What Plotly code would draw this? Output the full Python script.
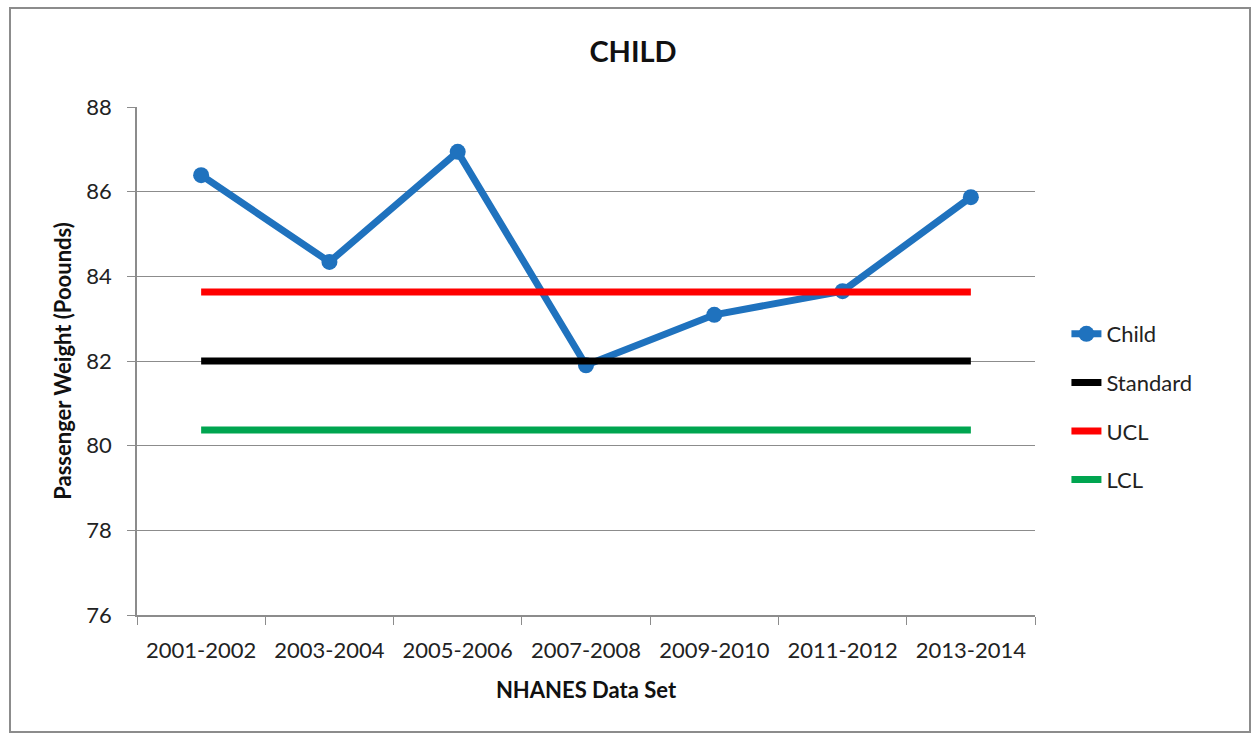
import plotly.graph_objects as go

categories = ["2001-2002", "2003-2004", "2005-2006", "2007-2008", "2009-2010", "2011-2012", "2013-2014"]
child = [86.39, 84.34, 86.94, 81.90, 83.09, 83.65, 85.87]
standard = [82.0] * 7
ucl = [83.63] * 7
lcl = [80.37] * 7
y_ticks = [76, 78, 80, 82, 84, 86, 88]

FONT = "Lato, 'Open Sans', sans-serif"

fig = go.Figure()
fig.add_trace(go.Scatter(x=categories, y=child, name="Child", mode="lines+markers", legendgroup="a",
                         line=dict(color="#1F72BE", width=7), marker=dict(size=16, color="#1F72BE")))
fig.add_trace(go.Scatter(x=categories, y=standard, name="Standard", mode="lines", legendgroup="b",
                         line=dict(color="#000000", width=7)))
fig.add_trace(go.Scatter(x=categories, y=ucl, name="UCL", mode="lines", legendgroup="c",
                         line=dict(color="#FF0000", width=7)))
fig.add_trace(go.Scatter(x=categories, y=lcl, name="LCL", mode="lines", legendgroup="d",
                         line=dict(color="#00A550", width=7)))

pw, ph = 898, 508
fig.update_layout(
    width=1257, height=734,
    margin=dict(l=137, r=222, t=107, b=119),
    paper_bgcolor="white", plot_bgcolor="white",
    font=dict(family=FONT, size=22, color="#222222"),
    title=dict(text="<b>CHILD</b>", x=(633 - 137) / pw, xref="paper", y=1 - 52 / 734,
               yanchor="middle", xanchor="center", font=dict(size=29, color="#111111")),
    showlegend=True,
    legend=dict(x=1.035, y=(615 - 407) / ph, xanchor="left", yanchor="middle", tracegroupgap=17,
                font=dict(size=22, color="#222222"), bgcolor="rgba(0,0,0,0)"),
    xaxis=dict(type="category", showgrid=False, showline=True, linecolor="#8C8C8C", linewidth=1.5,
               ticks="outside", tickson="boundaries", ticklen=8, tickcolor="#8C8C8C",
               ticklabelstandoff=15,
               title=dict(text="<b>NHANES Data Set</b>", font=dict(size=22, color="#111111"), standoff=20),
               tickfont=dict(size=22), range=[-0.5, 6.5]),
    yaxis=dict(range=[76, 88], tickvals=y_ticks, showgrid=True, gridcolor="#8C8C8C", gridwidth=1.2,
               showline=True, linecolor="#8C8C8C", linewidth=1.5, ticks="outside", ticklen=8,
               tickcolor="#8C8C8C", zeroline=False, ticklabelstandoff=11,
               title=dict(text="<b>Passenger Weight (Poounds)</b>", font=dict(size=22, color="#111111"), standoff=9),
               tickfont=dict(size=22)),
)
fig.add_shape(type="rect", xref="paper", yref="paper",
              x0=(10 - 137) / pw, x1=(1250 - 137) / pw, y0=(615 - 732) / ph, y1=(615 - 8) / ph,
              line=dict(color="#8C8C8C", width=2), fillcolor="rgba(0,0,0,0)", layer="below")
fig.write_html("out.html")
